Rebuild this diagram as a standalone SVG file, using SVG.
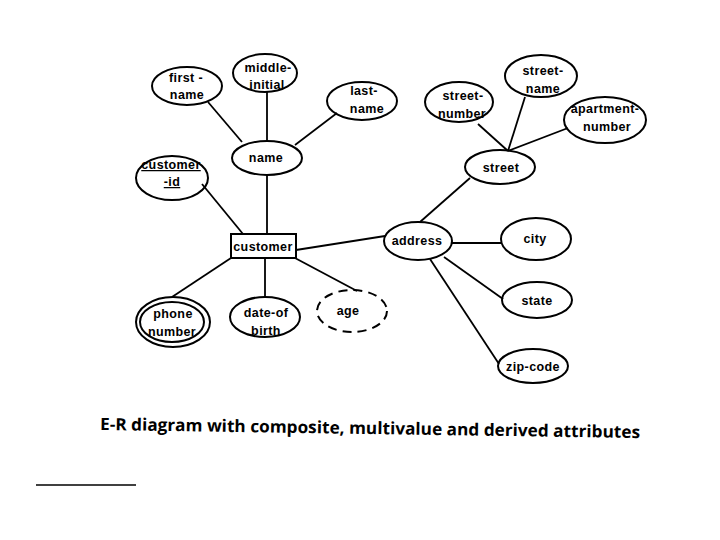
<svg xmlns="http://www.w3.org/2000/svg" width="720" height="540" viewBox="0 0 720 540">
<style>
.n{fill:none;stroke:#000;stroke-width:2}
.d{fill:none;stroke:#000;stroke-width:2;stroke-dasharray:9 6}
.t{font-family:"Liberation Sans",Arial,sans-serif;font-weight:bold;font-size:12.5px;letter-spacing:0.4px;text-anchor:middle;fill:#000}
.u{text-decoration:underline}
#connectors line{stroke:#000;stroke-width:1.8}
.cap{font-family:"Open Sans","Liberation Sans",sans-serif;font-weight:bold;font-size:17px;fill:#000}
</style>
<rect width="720" height="540" fill="#fff"/>
<g id="connectors">
<line x1="208" y1="102" x2="242" y2="142"/>
<line x1="267" y1="92" x2="267" y2="141"/>
<line x1="337" y1="113" x2="295" y2="145"/>
<line x1="267" y1="175" x2="267" y2="234"/>
<line x1="202" y1="184" x2="243" y2="234"/>
<line x1="231" y1="258" x2="172" y2="297"/>
<line x1="265" y1="258" x2="265" y2="297"/>
<line x1="295" y1="258" x2="357" y2="291"/>
<line x1="296" y1="250" x2="385" y2="236"/>
<line x1="420" y1="222" x2="470" y2="178"/>
<line x1="452" y1="243" x2="501" y2="243"/>
<line x1="444" y1="257" x2="503" y2="299"/>
<line x1="430" y1="259" x2="499" y2="364"/>
<line x1="478" y1="124" x2="508" y2="151"/>
<line x1="525" y1="97" x2="508" y2="151"/>
<line x1="568" y1="128" x2="508" y2="151"/>
</g>
<g id="first-name"><ellipse class="n" cx="187" cy="86" rx="35" ry="19"/><text class="t" x="186" y="82">first -</text><text class="t" x="187" y="99">name</text></g>
<g id="middle-initial"><ellipse class="n" cx="265" cy="73" rx="32" ry="19"/><text class="t" x="268" y="72">middle-</text><text class="t" x="267" y="89">initial</text></g>
<g id="last-name"><ellipse class="n" cx="362" cy="101" rx="35" ry="19"/><text class="t" x="364" y="95">last-</text><text class="t" x="367" y="113">name</text></g>
<g id="name"><ellipse class="n" cx="267" cy="158" rx="35" ry="17"/><text class="t" x="266" y="162">name</text></g>
<g id="customer-id"><ellipse class="n" cx="172" cy="178" rx="36" ry="22"/><text class="t u" x="171" y="169">customer</text><text class="t u" x="172" y="186">-id</text></g>
<g id="customer"><rect class="n" x="231" y="234" width="65" height="24"/><text class="t" x="263" y="251">customer</text></g>
<g id="phone-number"><ellipse class="n" cx="173" cy="322" rx="37" ry="25"/><ellipse class="n" cx="172" cy="322" rx="32" ry="20"/><text class="t" x="173" y="318">phone</text><text class="t" x="172" y="336">number</text></g>
<g id="date-of-birth"><ellipse class="n" cx="265" cy="317" rx="35" ry="20"/><text class="t" x="266" y="317">date-of</text><text class="t" x="266" y="335">birth</text></g>
<g id="age"><ellipse class="d" cx="352" cy="311" rx="35" ry="21"/><text class="t" x="348" y="315">age</text></g>
<g id="address"><ellipse class="n" cx="418" cy="241" rx="34" ry="19"/><text class="t" x="417" y="245">address</text></g>
<g id="city"><ellipse class="n" cx="536" cy="239" rx="35" ry="21"/><text class="t" x="535" y="243">city</text></g>
<g id="state"><ellipse class="n" cx="537" cy="300" rx="35" ry="18"/><text class="t" x="537" y="305">state</text></g>
<g id="zip-code"><ellipse class="n" cx="533" cy="366" rx="35" ry="17"/><text class="t" x="533" y="371">zip-code</text></g>
<g id="street"><ellipse class="n" cx="500" cy="167" rx="35" ry="17"/><text class="t" x="501" y="172">street</text></g>
<g id="street-number"><ellipse class="n" cx="459" cy="102" rx="34" ry="20"/><text class="t" x="463" y="100">street-</text><text class="t" x="462" y="118">number</text></g>
<g id="street-name"><ellipse class="n" cx="541" cy="76" rx="36" ry="21"/><text class="t" x="543" y="75">street-</text><text class="t" x="543" y="93">name</text></g>
<g id="apartment-number"><ellipse class="n" cx="605" cy="120" rx="41" ry="23"/><text class="t" x="605" y="113">apartment-</text><text class="t" x="607" y="131">number</text></g>
<text class="cap" x="100" y="430" textLength="540" lengthAdjust="spacingAndGlyphs" transform="rotate(0.85 100 430)">E-R diagram with composite, multivalue and derived attributes</text>
<line x1="36" y1="485" x2="136" y2="485" stroke="#000" stroke-width="1.5"/>
</svg>
